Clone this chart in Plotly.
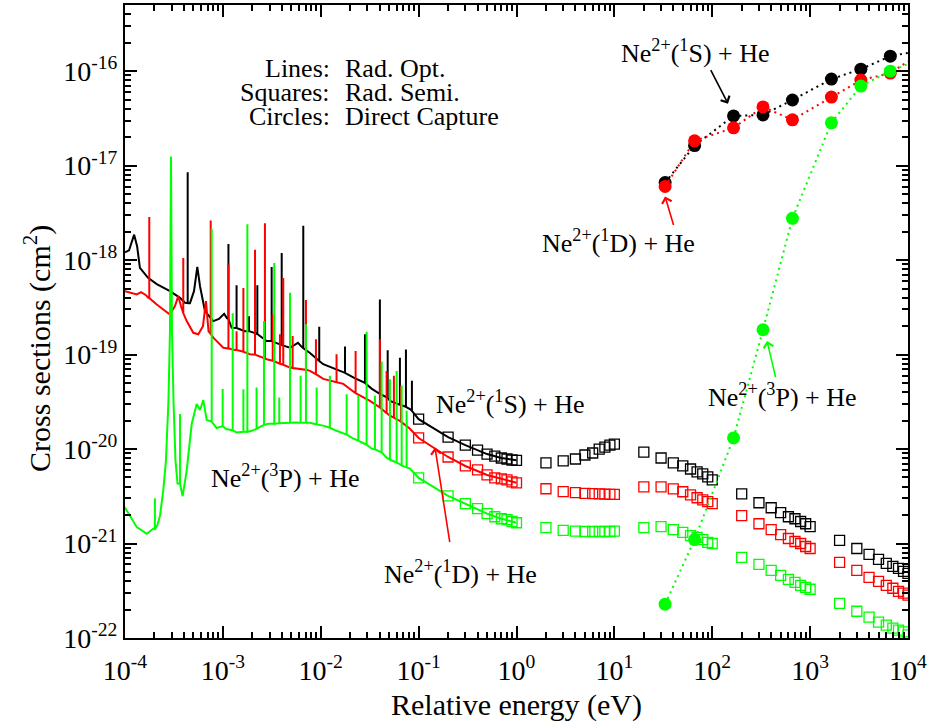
import plotly.graph_objects as go

# ---------------- Radiative, optical potential (lines) ----------------
# smooth background (eV, cm^2) plus narrow resonances (energy, base, peak)
black_bg_e = [1.00e-4, 1.10e-4, 1.24e-4, 1.33e-4, 1.42e-4, 1.72e-4, 2.11e-4, 2.88e-4, 3.65e-4,
              4.10e-4, 4.61e-4, 5.07e-4, 5.48e-4, 5.84e-4, 6.56e-4, 7.98e-4, 9.12e-4, 1.03e-3,
              1.10e-3, 1.23e-3, 1.68e-3, 2.80e-3, 4.85e-3, 5.85e-3, 6.43e-3, 7.76e-3, 1.06e-2,
              1.40e-2, 2.17e-2, 3.33e-2, 5.09e-2, 8.15e-2, 0.1, 0.2, 0.3, 0.5, 0.7, 1.0]
black_bg_s = [1.21e-18, 1.27e-18, 1.86e-18, 1.40e-18, 8.26e-19, 6.48e-19, 5.56e-19, 4.69e-19, 3.98e-19,
              3.53e-19, 3.50e-19, 4.69e-19, 8.46e-19, 5.29e-19, 2.89e-19, 2.26e-19, 2.38e-19, 2.70e-19,
              2.43e-19, 1.92e-19, 1.77e-19, 1.39e-19, 1.18e-19, 1.33e-19, 1.20e-19, 1.04e-19, 7.90e-20,
              7.05e-20, 5.71e-20, 4.34e-20, 3.24e-20, 2.65e-20, 2.07e-20, 1.34e-20, 1.10e-20, 8.85e-21,
              8.04e-21, 7.60e-21]
black_res_e = [4.37e-4, 1.14e-3, 1.38e-3, 1.85e-3, 2.25e-3, 3.15e-3, 3.99e-3, 6.63e-3, 9.65e-3,
               1.77e-2, 2.83e-2, 4.02e-2, 4.83e-2, 6.44e-2, 7.42e-2, 8.54e-2]
black_res_base = [3.50e-19, 2.38e-19, 1.91e-19, 1.77e-19, 1.65e-19, 1.39e-19, 1.26e-19, 1.17e-19, 8.56e-20,
                  6.40e-20, 5.00e-20, 3.84e-20, 3.49e-20, 2.94e-20, 2.80e-20, 2.54e-20]
black_res_peak = [8.51e-18, 1.48e-18, 5.42e-19, 2.55e-19, 5.42e-19, 8.46e-19, 1.19e-18, 2.31e-18, 1.97e-19,
                  1.22e-19, 1.64e-19, 3.83e-19, 1.11e-19, 9.28e-20, 1.13e-19, 5.27e-20]

red_bg_e = [1.00e-4, 1.32e-4, 1.46e-4, 1.64e-4, 1.73e-4, 2.11e-4, 2.88e-4, 3.24e-4, 3.50e-4, 3.73e-4,
            4.27e-4, 4.99e-4, 5.61e-4, 6.26e-4, 6.72e-4, 7.13e-4, 7.98e-4, 1.01e-3, 1.33e-3, 1.89e-3,
            2.80e-3, 4.85e-3, 7.76e-3, 1.06e-2, 1.70e-2, 2.17e-2, 3.18e-2, 5.09e-2, 8.15e-2,
            0.1, 0.2, 0.3, 0.5, 0.7, 1.0]
red_bg_s = [4.69e-19, 4.33e-19, 4.58e-19, 4.25e-19, 3.98e-19, 3.39e-19, 2.66e-19, 3.26e-19, 4.15e-19, 3.26e-19,
            2.26e-19, 1.70e-19, 1.64e-19, 2.00e-19, 3.68e-19, 1.77e-19, 1.51e-19, 1.18e-19, 1.12e-19, 1.01e-19,
            8.92e-20, 7.28e-20, 6.72e-20, 5.53e-20, 4.90e-20, 4.03e-20, 3.24e-20, 2.25e-20, 1.64e-20,
            1.31e-20, 8.24e-21, 6.62e-21, 5.32e-21, 4.83e-21, 4.39e-21]
red_res_e = [1.77e-4, 3.94e-4, 7.51e-4, 1.14e-3, 1.38e-3, 1.62e-3, 2.13e-3, 2.69e-3, 3.23e-3, 3.83e-3,
             4.14e-3, 5.16e-3, 7.06e-3, 8.93e-3, 1.45e-2, 2.27e-2, 4.02e-2, 4.71e-2, 5.59e-2, 6.59e-2]
red_res_base = [3.96e-19, 2.75e-19, 1.65e-19, 1.16e-19, 1.12e-19, 1.07e-19, 1.00e-19, 9.10e-20, 8.60e-20, 8.00e-20,
                7.80e-20, 7.20e-20, 6.90e-20, 6.20e-20, 5.10e-20, 3.90e-20, 2.75e-20, 2.40e-20, 2.15e-20, 1.95e-20]
red_res_peak = [2.85e-18, 1.05e-18, 2.63e-18, 8.97e-19, 1.77e-19, 5.08e-19, 1.29e-18, 2.46e-18, 2.66e-19, 1.64e-19,
                6.48e-19, 1.57e-19, 3.77e-19, 1.45e-19, 1.01e-19, 1.09e-19, 1.45e-19, 6.72e-20, 5.95e-20, 4.67e-20]

green_bg_e = [1.00e-4, 1.32e-4, 1.67e-4, 1.95e-4, 2.14e-4, 2.28e-4, 2.46e-4, 2.62e-4, 2.78e-4, 2.88e-4,
              2.95e-4, 3.02e-4, 3.13e-4, 3.28e-4, 3.44e-4, 3.88e-4, 4.27e-4, 4.80e-4, 5.40e-4, 5.84e-4,
              6.31e-4, 6.83e-4, 8.64e-4, 1.08e-3, 1.38e-3, 1.97e-3, 2.91e-3, 4.85e-3, 5.45e-3, 7.76e-3,
              1.06e-2, 1.45e-2, 2.15e-2, 3.31e-2, 4.71e-2, 8.15e-2, 0.1, 0.2, 0.3, 0.5, 0.7, 1.0]
green_bg_s = [2.40e-21, 1.49e-21, 1.27e-21, 1.44e-21, 1.56e-21, 1.98e-21, 3.64e-21, 7.55e-21, 3.24e-20, 1.77e-19,
              1.25e-17, 1.77e-19, 3.24e-20, 7.55e-21, 4.32e-21, 3.17e-21, 5.92e-21, 1.84e-20, 2.99e-20, 2.59e-20,
              3.30e-20, 2.03e-20, 1.67e-20, 1.63e-20, 1.50e-20, 1.56e-20, 1.85e-20, 1.90e-20, 1.91e-20, 1.90e-20,
              1.77e-20, 1.56e-20, 1.29e-20, 1.01e-20, 8.10e-21, 6.20e-21, 4.95e-21, 3.20e-21, 2.64e-21, 2.07e-21,
              1.83e-21, 1.66e-21]
green_res_e = [2.02e-4, 3.65e-4, 7.69e-4, 9.95e-4, 1.26e-3, 1.62e-3, 1.78e-3, 2.21e-3, 2.63e-3, 3.35e-3,
               3.77e-3, 4.85e-3, 6.23e-3, 7.06e-3, 9.08e-3, 1.24e-2, 1.84e-2, 2.42e-2, 2.94e-2, 3.58e-2,
               4.19e-2, 5.09e-2, 5.96e-2, 6.71e-2, 7.54e-2]
green_res_base = [1.42e-21, 4.30e-21, 1.95e-20, 1.75e-20, 1.58e-20, 1.52e-20, 1.52e-20, 1.64e-20, 1.80e-20, 1.85e-20,
                  1.88e-20, 1.90e-20, 1.90e-20, 1.90e-20, 1.82e-20, 1.68e-20, 1.42e-20, 1.23e-20, 1.11e-20, 9.90e-21,
                  9.20e-21, 7.70e-21, 7.20e-21, 6.70e-21, 6.40e-21]
green_res_peak = [3.02e-21, 2.35e-20, 2.15e-18, 4.31e-20, 2.73e-19, 4.30e-20, 2.40e-18, 4.48e-20, 2.26e-19, 9.32e-19,
                  3.51e-20, 4.50e-19, 5.95e-20, 2.09e-19, 4.48e-20, 5.95e-20, 3.81e-20, 3.66e-20, 1.74e-19, 3.66e-20,
                  8.42e-20, 5.49e-20, 6.72e-20, 4.67e-20, 2.54e-20]

# ---------------- Radiative, semiclassical (squares) ----------------
semi_e = [0.1, 0.2, 0.3, 0.4, 0.5, 0.6, 0.7, 0.8, 0.9, 1.0,
          2, 3, 4, 5, 6, 7, 8, 9, 10,
          20, 30, 40, 50, 60, 70, 80, 90, 100,
          200, 300, 400, 500, 600, 700, 800, 900, 1000,
          2000, 3000, 4000, 5000, 6000, 7000, 8000, 9000, 10000]
black_semi = [2.07e-20, 1.34e-20, 1.10e-20, 9.75e-21, 8.85e-21, 8.43e-21, 8.04e-21, 7.85e-21, 7.66e-21, 7.60e-21,
              7.13e-21, 7.48e-21, 7.85e-21, 8.65e-21, 9.08e-21, 1.00e-20, 1.05e-20, 1.10e-20, 1.13e-20,
              9.29e-21, 8.04e-21, 7.13e-21, 6.62e-21, 6.15e-21, 5.73e-21, 5.46e-21, 5.07e-21, 4.72e-21,
              3.36e-21, 2.70e-21, 2.39e-21, 2.12e-21, 1.92e-21, 1.83e-21, 1.71e-21, 1.62e-21, 1.51e-21,
              1.08e-21, 8.86e-22, 7.66e-22, 6.79e-22, 6.15e-22, 5.73e-22, 5.46e-22, 5.07e-22, 4.83e-22]
red_semi = [1.31e-20, 8.24e-21, 6.62e-21, 6.01e-21, 5.32e-21, 4.95e-21, 4.83e-21, 4.72e-21, 4.50e-21, 4.39e-21,
            3.80e-21, 3.55e-21, 3.45e-21, 3.40e-21, 3.38e-21, 3.35e-21, 3.33e-21, 3.32e-21, 3.32e-21,
            3.98e-21, 3.98e-21, 3.79e-21, 3.53e-21, 3.28e-21, 3.05e-21, 2.90e-21, 2.77e-21, 2.64e-21,
            1.97e-21, 1.62e-21, 1.40e-21, 1.24e-21, 1.13e-21, 1.05e-21, 1.00e-21, 9.30e-22, 8.86e-22,
            6.31e-22, 5.20e-22, 4.39e-22, 3.98e-22, 3.61e-22, 3.36e-22, 3.12e-22, 2.98e-22, 2.84e-22]
green_semi = [4.95e-21, 3.20e-21, 2.64e-21, 2.34e-21, 2.07e-21, 1.92e-21, 1.83e-21, 1.79e-21, 1.71e-21, 1.66e-21,
              1.47e-21, 1.38e-21, 1.35e-21, 1.34e-21, 1.34e-21, 1.34e-21, 1.34e-21, 1.34e-21, 1.35e-21,
              1.47e-21, 1.51e-21, 1.40e-21, 1.31e-21, 1.21e-21, 1.16e-21, 1.10e-21, 1.03e-21, 1.00e-21,
              7.13e-22, 6.01e-22, 5.20e-22, 4.60e-22, 4.18e-22, 3.88e-22, 3.61e-22, 3.44e-22, 3.28e-22,
              2.33e-22, 1.92e-22, 1.66e-22, 1.47e-22, 1.37e-22, 1.27e-22, 1.21e-22, 1.16e-22, 1.08e-22]

# ---------------- Direct capture (circles) ----------------
dc_e = [33, 66, 165, 330, 660, 1650, 3300, 6600]
black_dc = [6.62e-18, 1.63e-17, 3.36e-17, 3.44e-17, 4.95e-17, 8.24e-17, 1.05e-16, 1.44e-16]
red_dc = [6.01e-18, 1.83e-17, 2.51e-17, 4.18e-17, 3.05e-17, 5.32e-17, 8.04e-17, 9.53e-17]
green_dc = [2.28e-22, 1.10e-21, 1.31e-20, 1.83e-19, 2.77e-18, 2.84e-17, 6.95e-17, 1.00e-16]
# the dotted connecting curves continue to the edge of the energy range
dc_tail_e = 10000
black_dc_tail = 1.56e-16
red_dc_tail = 1.27e-16
green_dc_tail = 1.19e-16

x_tick_vals = [1e-4, 1e-3, 1e-2, 1e-1, 1e0, 1e1, 1e2, 1e3, 1e4]
x_tick_text = ["10<sup>-4</sup>", "10<sup>-3</sup>", "10<sup>-2</sup>", "10<sup>-1</sup>", "10<sup>0</sup>",
               "10<sup>1</sup>", "10<sup>2</sup>", "10<sup>3</sup>", "10<sup>4</sup>"]
y_tick_vals = [1e-22, 1e-21, 1e-20, 1e-19, 1e-18, 1e-17, 1e-16]
y_tick_text = ["10<sup>-22</sup>", "10<sup>-21</sup>", "10<sup>-20</sup>", "10<sup>-19</sup>",
               "10<sup>-18</sup>", "10<sup>-17</sup>", "10<sup>-16</sup>"]

BLACK, RED, GREEN = "#000000", "#ff0000", "#00ff00"
FONT = "Times New Roman, Liberation Serif, DejaVu Serif, serif"


def resonant_curve(bg_e, bg_s, res_e, res_base, res_peak):
    """Merge the background with narrow resonances drawn as vertical spikes."""
    pts = list(zip(bg_e, bg_s))
    for e, b, p in zip(res_e, res_base, res_peak):
        pts.extend([(e, b), (e, p), (e, b)])
    pts.sort(key=lambda t: t[0])
    return [p[0] for p in pts], [p[1] for p in pts]


fig = go.Figure()

for color, bg_e, bg_s, re_, rb, rp in [
    (BLACK, black_bg_e, black_bg_s, black_res_e, black_res_base, black_res_peak),
    (RED, red_bg_e, red_bg_s, red_res_e, red_res_base, red_res_peak),
    (GREEN, green_bg_e, green_bg_s, green_res_e, green_res_base, green_res_peak),
]:
    ex, sy = resonant_curve(bg_e, bg_s, re_, rb, rp)
    fig.add_trace(go.Scatter(x=ex, y=sy, mode="lines",
                             line=dict(color=color, width=2), showlegend=False))

for color, vals in [(BLACK, black_semi), (RED, red_semi), (GREEN, green_semi)]:
    fig.add_trace(go.Scatter(x=semi_e, y=vals, mode="markers", showlegend=False,
                             marker=dict(symbol="square-open", size=10, color=color,
                                         line=dict(color=color, width=1.3))))

for color, vals, tail in [(BLACK, black_dc, black_dc_tail), (RED, red_dc, red_dc_tail),
                          (GREEN, green_dc, green_dc_tail)]:
    fig.add_trace(go.Scatter(x=dc_e + [dc_tail_e], y=vals + [tail], mode="lines", showlegend=False,
                             line=dict(color=color, width=2, dash="2px,4px")))
    fig.add_trace(go.Scatter(x=dc_e, y=vals, mode="markers", showlegend=False,
                             marker=dict(symbol="circle", size=13, color=color)))

axis_common = dict(
    showline=True, linewidth=2, linecolor="black", mirror="allticks",
    ticks="inside", ticklen=12, tickwidth=2, tickcolor="black",
    showgrid=False, zeroline=False,
    tickfont=dict(family=FONT, size=28, color="black"),
    minor=dict(ticks="inside", ticklen=6, tickwidth=1.5, tickcolor="black", dtick="D1", showgrid=False),
)
fig.update_xaxes(type="log", range=[-4, 4], tickmode="array", tickvals=x_tick_vals,
                 ticktext=x_tick_text, ticklabelstandoff=6, **axis_common)
fig.update_yaxes(type="log", range=[-22, -15.3], tickmode="array", tickvals=y_tick_vals,
                 ticktext=y_tick_text, **axis_common)

PW, PH, ML, MT = 783, 635, 125, 3


def px(x):
    return (x - ML) / PW


def py(y):
    return (MT + PH - y) / PH


annots = []


def text(x, y, s, size=26, xanchor="center", **kw):
    annots.append(dict(x=px(x), y=py(y), xref="paper", yref="paper", text=s, showarrow=False,
                       xanchor=xanchor, yanchor="middle", borderpad=0,
                       font=dict(family=FONT, size=size, color="black"), **kw))


def arrow(tip, tail, color):
    annots.append(dict(x=px(tip[0]), y=py(tip[1]), xref="paper", yref="paper", text="",
                       showarrow=True, ax=tail[0] - tip[0], ay=tail[1] - tip[1],
                       arrowhead=4, arrowsize=1.2, arrowwidth=1.6, arrowcolor=color))


# key to the three kinds of symbols
text(331, 67, "Lines:", xanchor="right")
text(344, 67, "Rad. Opt.", xanchor="left")
text(331, 91, "Squares:", xanchor="right")
text(344, 91, "Rad. Semi.", xanchor="left")
text(331, 115, "Circles:", xanchor="right")
text(344, 115, "Direct Capture", xanchor="left")

# state labels
text(695, 50, "Ne<sup>2+</sup>(<sup>1</sup>S) + He")
text(618, 240, "Ne<sup>2+</sup>(<sup>1</sup>D) + He")
text(782, 395, "Ne<sup>2+</sup>(<sup>3</sup>P) + He")
text(510, 402, "Ne<sup>2+</sup>(<sup>1</sup>S) + He")
text(460, 572, "Ne<sup>2+</sup>(<sup>1</sup>D) + He")
text(285, 476, "Ne<sup>2+</sup>(<sup>3</sup>P) + He")

arrow((728, 102), (710, 67), BLACK)
arrow((665, 195), (674, 225), RED)
arrow((767, 340), (776, 378), GREEN)
arrow((435, 447), (450, 543), RED)

# axis titles
text(516, 705, "Relative energy (eV)", size=30)
text(38, 348, "Cross sections (cm<sup>2</sup>)", size=30, textangle=-90)

fig.update_layout(
    width=930, height=725, autosize=False,
    margin=dict(l=ML, r=930 - ML - PW, t=MT, b=725 - MT - PH),
    paper_bgcolor="white", plot_bgcolor="white",
    annotations=annots, showlegend=False,
)

fig.write_html("out.html")
